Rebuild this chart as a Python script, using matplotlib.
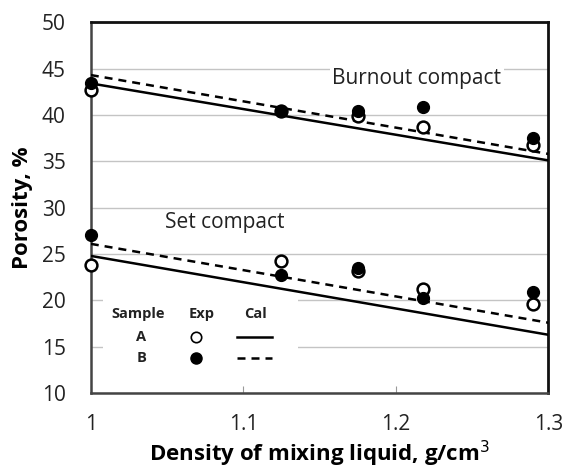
import numpy as np
import matplotlib
matplotlib.use('Agg')
import matplotlib.pyplot as plt

plt.rcParams['font.family'] = ['Open Sans', 'DejaVu Sans']

# 实验点 (Exp) 和计算线 (Cal)
density = [1.0, 1.125, 1.175, 1.218, 1.29]
burn_A = [42.7, 40.4, 39.9, 38.7, 36.8]
burn_B = [43.4, 40.4, 40.4, 40.9, 37.5]
set_A = [23.8, 24.3, 23.2, 21.2, 19.6]
set_B = [27.1, 22.7, 23.5, 20.3, 20.9]

cal_x = [1.0, 1.3]
burn_cal_A = [43.4, 35.1]
burn_cal_B = [44.3, 35.8]
set_cal_A = [24.8, 16.3]
set_cal_B = [26.1, 17.6]

fig = plt.figure(figsize=(5.64, 4.72), dpi=100)
ax = fig.add_axes([0.161, 0.167, 0.811, 0.786])

lw = 1.8
dash = (3.2, 2.4)
ax.plot(cal_x, burn_cal_A, '-', color='black', lw=lw, zorder=3)
ax.plot(cal_x, burn_cal_B, '--', color='black', lw=lw, dashes=dash, zorder=3)
ax.plot(cal_x, set_cal_A, '-', color='black', lw=lw, zorder=3)
ax.plot(cal_x, set_cal_B, '--', color='black', lw=lw, dashes=dash, zorder=3)

ms = 8.5
for ys in (burn_A, set_A):
    ax.plot(density, ys, 'o', ms=ms, mfc='white', mec='black', mew=1.8,
            ls='none', zorder=4, clip_on=False)
for ys in (burn_B, set_B):
    ax.plot(density, ys, 'o', ms=ms, mfc='black', mec='black',
            ls='none', zorder=5, clip_on=False)

ax.set_xlim(1, 1.3)
ax.set_ylim(10, 50)
ax.set_xticks([1, 1.1, 1.2, 1.3])
ax.set_xticklabels(['1', '1.1', '1.2', '1.3'])
ax.set_yticks(range(10, 51, 5))
ax.yaxis.grid(True, color='#c4c4c4', lw=1.0)
ax.set_axisbelow(True)
ax.tick_params(axis='x', direction='in', length=5, width=0.8, colors='#999999',
               labelcolor='#222222', labelsize=15, pad=15)
ax.tick_params(axis='y', length=0, labelcolor='#222222', labelsize=15, pad=18)
for side in ['left', 'bottom']:
    ax.spines[side].set_color('#444444')
    ax.spines[side].set_linewidth(1.8)
for side in ['right', 'top']:
    ax.spines[side].set_color('#111111')
    ax.spines[side].set_linewidth(2.0)

ax.set_xlabel('Density of mixing liquid, g/cm$^3$', fontsize=16, fontweight='bold',
              labelpad=3)
ax.set_ylabel('Porosity, %', fontsize=16, fontweight='bold', labelpad=6)

ax.text(0.713, 0.849, 'Burnout compact', transform=ax.transAxes, fontsize=15,
        ha='center', va='center', color='#222222',
        bbox=dict(facecolor='white', edgecolor='none', pad=2), zorder=2)
ax.text(0.293, 0.461, 'Set compact', transform=ax.transAxes, fontsize=15,
        ha='center', va='center', color='#222222', zorder=2)

# 表格式图例
tr = ax.transAxes
ax.add_patch(plt.Rectangle((0.026, 0.06), 0.427, 0.21, transform=tr,
                           facecolor='white', edgecolor='none', zorder=2))
kw = dict(transform=tr, fontsize=10.5, fontweight='bold', ha='center',
          va='center', color='#222222', zorder=6)
ax.text(0.103, 0.213, 'Sample', **kw)
ax.text(0.243, 0.213, 'Exp', **kw)
ax.text(0.359, 0.213, 'Cal', **kw)
ax.text(0.11, 0.151, 'A', **kw)
ax.text(0.11, 0.094, 'B', **kw)
ax.plot([0.23], [0.151], 'o', ms=7.5, mfc='white', mec='black', mew=1.2,
        transform=tr, zorder=6)
ax.plot([0.23], [0.094], 'o', ms=8, mfc='black', mec='black',
        transform=tr, zorder=6)
ax.plot([0.319, 0.396], [0.151, 0.151], '-', color='black', lw=lw,
        transform=tr, zorder=6)
ax.plot([0.319, 0.396], [0.094, 0.094], '--', color='black', lw=lw,
        dashes=dash, transform=tr, zorder=6)

fig.savefig('out.png', dpi=100)
